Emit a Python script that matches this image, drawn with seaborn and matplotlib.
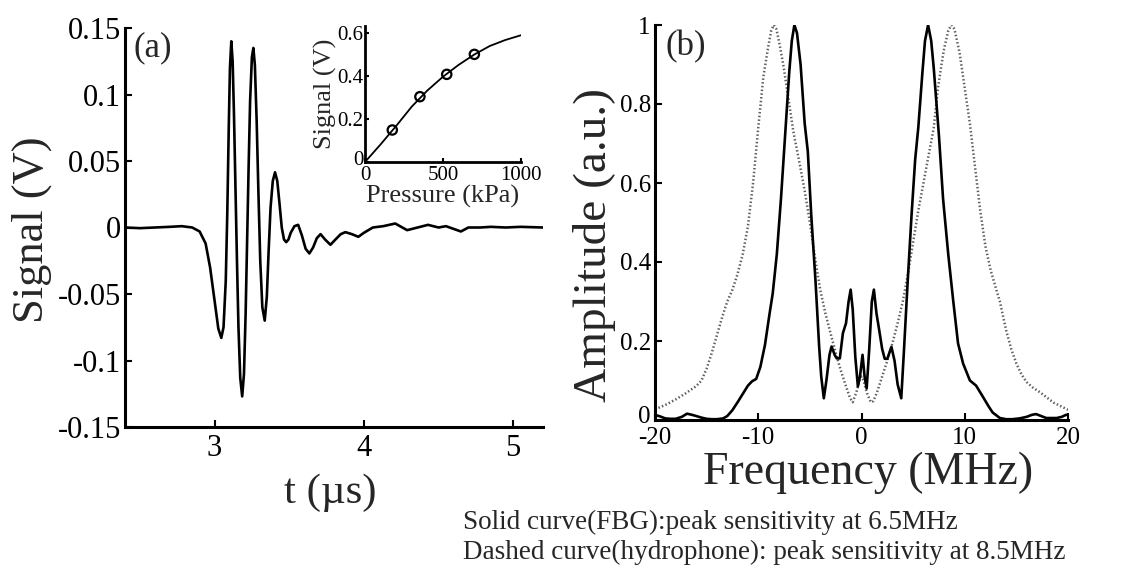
import matplotlib
matplotlib.use("Agg")
import matplotlib.pyplot as plt
import matplotlib.transforms as mtransforms
import seaborn as sns

# ---- (a) time-domain signal ----
t_us = [2.40, 2.50, 2.60, 2.70, 2.78, 2.85, 2.90, 2.94, 2.97, 3.00,
        3.025, 3.045, 3.06, 3.075, 3.085, 3.095, 3.103, 3.112, 3.121, 3.13,
        3.14, 3.15, 3.16, 3.172, 3.185, 3.197, 3.208, 3.218, 3.228, 3.238,
        3.25, 3.26, 3.27, 3.282, 3.294, 3.306, 3.32, 3.336, 3.35, 3.362,
        3.375, 3.39, 3.405, 3.42, 3.435, 3.45, 3.465, 3.48, 3.495, 3.51,
        3.535, 3.56, 3.585, 3.61, 3.635, 3.66, 3.685, 3.71, 3.74, 3.776,
        3.81, 3.845, 3.876, 3.92, 3.963, 4.00, 4.06, 4.13, 4.21, 4.29,
        4.36, 4.43, 4.50, 4.55, 4.60, 4.65, 4.70, 4.78, 4.85, 4.95,
        5.05, 5.20]
signal_v = [0.0, -0.0005, 0.0, 0.0005, 0.001, 0.0, -0.003, -0.012, -0.030, -0.055,
            -0.076, -0.083, -0.075, -0.040, 0.010, 0.075, 0.120, 0.140, 0.125, 0.085,
            0.030, -0.025, -0.075, -0.113, -0.127, -0.110, -0.065, -0.010, 0.045, 0.095,
            0.128, 0.135, 0.122, 0.080, 0.025, -0.025, -0.060, -0.070, -0.052, -0.018,
            0.015, 0.035, 0.0415, 0.035, 0.018, 0.000, -0.009, -0.011, -0.009, -0.004,
            0.001, 0.002, -0.006, -0.016, -0.0195, -0.015, -0.008, -0.005, -0.009, -0.013,
            -0.009, -0.005, -0.0035, -0.005, -0.007, -0.004, 0.0, 0.001, 0.003, -0.002,
            0.0, 0.002, 0.0, 0.001, -0.001, -0.003, 0.0, 0.0, 0.0005, 0.0,
            0.0005, 0.0]

# ---- inset: signal vs pressure ----
fit_kpa = [0, 100, 200, 300, 400, 500, 600, 700, 800, 900, 1000]
fit_v = [0.0, 0.082, 0.168, 0.258, 0.333, 0.397, 0.452, 0.500, 0.540, 0.568, 0.590]
meas_kpa = [175, 352, 524, 701]
meas_v = [0.149, 0.304, 0.408, 0.501]

# ---- (b) spectra ----
freq_fbg = [-20.0, -19.5, -19.0, -18.5, -18.0, -17.4, -16.9, -16.4, -16.0, -15.5,
            -15.0, -14.5, -14.0, -13.4, -13.0, -12.5, -12.0, -11.5, -11.0, -10.6,
            -10.2, -9.8, -9.35, -8.9, -8.6, -8.2, -7.8, -7.4, -7.0, -6.75,
            -6.5, -6.25, -5.9, -5.5, -5.2, -4.87, -4.45, -4.1, -3.9, -3.65,
            -3.4, -3.1, -2.9, -2.6, -2.4, -2.1, -1.8, -1.5, -1.25, -1.05,
            -0.85, -0.6, -0.35, -0.15, 0.1, 0.3, 0.5, 0.75, 1.0, 1.2,
            1.45, 1.7, 2.0, 2.25, 2.5, 2.9, 3.2, 3.5, 3.85, 4.1,
            4.45, 4.85, 5.2, 5.5, 5.9, 6.15, 6.45, 6.75, 7.0, 7.5,
            7.9, 8.4, 8.87, 9.35, 9.84, 10.5, 11.1, 11.8, 12.3, 12.7,
            13.4, 14.0, 14.6, 15.3, 16.0, 16.5, 16.9, 17.4, 17.9, 18.9,
            19.4, 19.8, 20.0]
amp_fbg = [0.013, 0.009, 0.004, 0.003, 0.003, 0.008, 0.016, 0.013, 0.010, 0.006,
           0.003, 0.002, 0.002, 0.004, 0.010, 0.025, 0.045, 0.066, 0.087, 0.098,
           0.104, 0.134, 0.19, 0.27, 0.32, 0.42, 0.56, 0.72, 0.88, 0.96,
           1.0, 0.98, 0.90, 0.75, 0.68, 0.52, 0.35, 0.185, 0.11, 0.055,
           0.10, 0.165, 0.186, 0.165, 0.156, 0.156, 0.22, 0.245, 0.30, 0.33,
           0.28, 0.16, 0.085, 0.11, 0.165, 0.11, 0.08, 0.18, 0.30, 0.33,
           0.27, 0.23, 0.18, 0.155, 0.155, 0.185, 0.15, 0.09, 0.055, 0.17,
           0.34, 0.52, 0.66, 0.74, 0.88, 0.96, 1.0, 0.96, 0.89, 0.72,
           0.56, 0.42, 0.305, 0.194, 0.143, 0.10, 0.087, 0.057, 0.035, 0.019,
           0.005, 0.002, 0.002, 0.004, 0.008, 0.013, 0.015, 0.010, 0.005, 0.005,
           0.008, 0.013, 0.013]

freq_hyd = [-20.0, -19.0, -18.0, -17.0, -16.0, -15.5, -15.0, -14.5, -14.0, -13.5,
            -13.0, -12.5, -12.0, -11.5, -11.0, -10.5, -10.0, -9.5, -9.0, -8.75,
            -8.5, -8.25, -8.0, -7.58, -7.0, -6.6, -6.0, -5.5, -5.0, -4.5,
            -4.0, -3.5, -3.0, -2.5, -2.0, -1.5, -1.1, -0.85, -0.5, -0.2,
            0.0, 0.2, 0.5, 0.9, 1.15, 1.5, 2.0, 2.5, 3.0, 3.5,
            4.0, 4.5, 5.0, 5.5, 6.0, 6.5, 7.0, 7.4, 7.75, 8.0,
            8.4, 8.7, 9.0, 9.5, 10.0, 10.5, 11.0, 11.5, 12.0, 12.5,
            13.0, 13.4, 14.0, 14.5, 15.0, 15.5, 16.0, 16.6, 17.3, 18.0,
            18.6, 19.3, 20.0]
amp_hyd = [0.027, 0.038, 0.052, 0.068, 0.086, 0.10, 0.13, 0.17, 0.215, 0.26,
           0.30, 0.33, 0.37, 0.42, 0.49, 0.60, 0.74, 0.87, 0.95, 0.985,
           1.0, 0.99, 0.96, 0.90, 0.80, 0.73, 0.65, 0.58, 0.50, 0.41,
           0.33, 0.27, 0.22, 0.17, 0.125, 0.085, 0.055, 0.045, 0.07, 0.10,
           0.11, 0.10, 0.07, 0.045, 0.048, 0.07, 0.11, 0.15, 0.195, 0.245,
           0.30, 0.37, 0.45, 0.53, 0.60, 0.67, 0.74, 0.84, 0.90, 0.94,
           0.985, 1.0, 0.99, 0.93, 0.84, 0.75, 0.64, 0.53, 0.44, 0.38,
           0.335, 0.30, 0.228, 0.18, 0.143, 0.115, 0.096, 0.082, 0.07, 0.056,
           0.044, 0.035, 0.026]

yticks_a = [-0.15, -0.1, -0.05, 0, 0.05, 0.1, 0.15]
ylabels_a = ['-0.15', '-0.1', '-0.05', '0', '0.05', '0.1', '0.15']
xticks_a = [3, 4, 5]
xticks_in = [0, 500, 1000]
yticks_in = [0, 0.2, 0.4, 0.6]
ylabels_in = ['0', '0.2', '0.4', '0.6']
xticks_b = [-20, -10, 0, 10, 20]
xlabels_b = ['-20', '-10', '0', '10', '20']
yticks_b = [0, 0.2, 0.4, 0.6, 0.8, 1]
ylabels_b = ['0', '0.2', '0.4', '0.6', '0.8', '1']

notes = ["Solid curve(FBG):peak sensitivity at 6.5MHz",
         "Dashed curve(hydrophone): peak sensitivity at 8.5MHz"]

sns.set_theme(style="ticks")
plt.rcParams['font.family'] = ['Liberation Serif', 'DejaVu Serif']


def style_axis(ax, fs, lw=2.2):
    sns.despine(ax=ax)
    for side in ['left', 'bottom']:
        ax.spines[side].set_linewidth(lw)
        ax.spines[side].set_color('black')
    ax.tick_params(direction='in', length=5, width=1.5, labelsize=fs,
                   colors='black', pad=3)
    ax.set_xlabel('')
    ax.set_ylabel('')
    ax.set_facecolor('none')


def lift_first_ylabel(ax, points):
    # the lowest y tick label sits right on the x tick labels; nudge it up a bit
    lab = ax.get_yticklabels()[0]
    lab.set_transform(lab.get_transform() + mtransforms.ScaledTranslation(
        0, points / 72, fig.dpi_scale_trans))


W, H = 1122, 569
fig = plt.figure(figsize=(W / 100, H / 100), dpi=100)

# panel (a)
ax_a = fig.add_axes([125 / W, 1 - 427 / H, 418 / W, 399 / H])
sns.lineplot(x=t_us, y=signal_v, ax=ax_a, color='black', lw=1.9, sort=False)
ax_a.set_xlim(2.4, 5.2)
ax_a.set_ylim(-0.15, 0.15)
ax_a.set_xticks(xticks_a)
ax_a.set_xticklabels([str(v) for v in xticks_a])
ax_a.set_yticks(yticks_a)
ax_a.set_yticklabels(ylabels_a)
style_axis(ax_a, 22)
ax_a.tick_params(axis='x', pad=5)
ax_a.text(153 / W, 1 - 48 / H, '(a)', transform=fig.transFigure,
          ha='center', va='center', fontsize=25)

# inset
ax_in = fig.add_axes([365 / W, 1 - 162 / H, 156 / W, 136 / H])
sns.lineplot(x=fit_kpa, y=fit_v, ax=ax_in, color='black', lw=1.3)
sns.scatterplot(x=meas_kpa, y=meas_v, ax=ax_in, marker='o', s=45,
                facecolor='none', edgecolor='black', linewidth=1.6, zorder=3)
ax_in.set_xlim(0, 1000)
ax_in.set_ylim(0, 0.633)
ax_in.set_xticks(xticks_in)
ax_in.set_yticks(yticks_in)
ax_in.set_yticklabels(ylabels_in)
style_axis(ax_in, 15, lw=2.0)
ax_in.tick_params(length=3, pad=1)
ax_in.tick_params(axis='x', pad=3)
ax_in.set_xlabel('Pressure (kPa)', fontsize=19, labelpad=0)
ax_in.set_ylabel('Signal (V)', fontsize=19, labelpad=0)
lift_first_ylabel(ax_in, 3)

# panel (b)
ax_b = fig.add_axes([655 / W, 1 - 420 / H, 413 / W, 395 / H])
sns.lineplot(x=freq_hyd, y=amp_hyd, ax=ax_b, color='#606060', lw=1.8,
             linestyle=(0, (0.6, 0.9)), sort=False)
sns.lineplot(x=freq_fbg, y=amp_fbg, ax=ax_b, color='black', lw=1.9, sort=False)
ax_b.set_xlim(-20, 20)
ax_b.set_ylim(0, 1)
ax_b.set_xticks(xticks_b)
ax_b.set_xticklabels(xlabels_b)
ax_b.set_yticks(yticks_b)
ax_b.set_yticklabels(ylabels_b)
style_axis(ax_b, 18)
ax_b.tick_params(axis='x', pad=5)
lift_first_ylabel(ax_b, 4)
ax_b.text(686 / W, 1 - 47 / H, '(b)', transform=fig.transFigure,
          ha='center', va='center', fontsize=25)

# axis titles placed in figure pixels
fig.text(32 / W, 1 - 230 / H, 'Signal (V)', rotation=90, ha='center',
         va='center', fontsize=32)
fig.text(330 / W, 1 - 493 / H, 't (µs)', ha='center', va='center', fontsize=31)
fig.text(595 / W, 1 - 245 / H, 'Amplitude (a.u.)', rotation=90, ha='center',
         va='center', fontsize=34)
fig.text(868 / W, 1 - 473 / H, 'Frequency (MHz)', ha='center', va='center',
         fontsize=33)

for i, line in enumerate(notes):
    fig.text(463 / W, 1 - (522 + 30 * i) / H, line, ha='left', va='center',
             fontsize=19.5)

fig.savefig('out.png', dpi=100, facecolor='white')
